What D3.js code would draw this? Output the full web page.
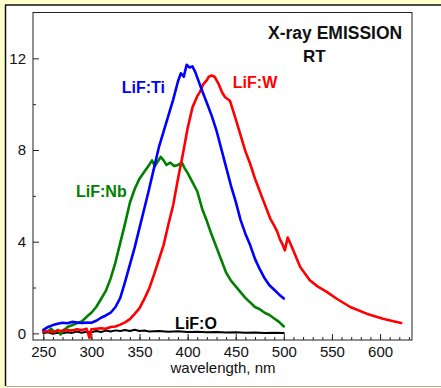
<!DOCTYPE html>
<html>
<head>
<meta charset="utf-8">
<script src="https://cdn.jsdelivr.net/npm/d3@7/dist/d3.min.js"></script>
<style>
  html, body { margin: 0; padding: 0; background: #FFFFCC; }
  svg { display: block; }
  text { font-family: "Liberation Sans", Arial, sans-serif; }
</style>
</head>
<body>
<svg id="chart" width="441" height="388"></svg>
<script>
// Emission spectra: wavelength (nm) and intensity (arb. units)
const tiWavelength = [250,255,260,265,270,275,280,285,290,295,300,305,310,315,320,325,330,335,340,345,350,355,360,365,370,375,380,385,390,393,396,399,402,405,408,411,415,420,425,430,435,440,445,450,455,460,465,470,475,480,485,490,495,500];
const tiIntensity  = [0.15,0.28,0.36,0.42,0.46,0.44,0.50,0.47,0.45,0.47,0.46,0.55,0.68,0.78,0.90,1.15,1.55,2.25,3.00,3.75,4.60,5.45,6.30,7.20,8.10,8.80,9.50,10.20,11.00,11.35,11.20,11.72,11.60,11.65,11.40,11.05,10.60,10.05,9.50,8.85,8.05,7.25,6.45,5.75,4.95,4.35,3.85,3.25,2.80,2.40,2.10,1.90,1.70,1.52];

const wWavelength = [250,255,260,265,270,275,280,285,290,295,298,300,305,310,315,320,325,330,335,340,345,350,355,360,365,370,375,380,385,390,395,400,405,410,413,416,420,422,425,428,432,436,439,444,447,450,455,460,465,470,475,480,486,490,493,496,499,501,504,507,510,517,527,535,545,555,569,586,603,615,622];
const wIntensity  = [0.07,0.10,0.05,0.12,0.10,0.15,0.12,0.18,0.15,0.20,-0.20,0.18,0.20,0.22,0.20,0.28,0.30,0.38,0.48,0.62,0.85,1.10,1.50,1.95,2.55,3.20,3.85,4.75,5.60,6.75,7.80,8.95,9.85,10.35,10.55,10.85,11.05,11.20,11.25,11.20,10.90,10.50,10.30,10.15,9.75,9.35,8.65,7.95,7.40,6.75,6.20,5.65,5.00,4.70,4.45,4.10,3.85,3.62,4.18,3.90,3.60,2.90,2.32,2.05,1.80,1.51,1.15,0.86,0.64,0.52,0.45];

const nbWavelength = [255,258,262,265,268,270,273,276,280,285,290,295,300,305,310,315,320,325,330,335,340,345,350,355,360,363,366,369,372,375,378,382,386,390,394,397,400,405,410,415,420,425,430,435,440,445,450,455,460,465,470,475,480,485,490,495,500];
const nbIntensity  = [0.08,0.20,0.05,0.15,-0.05,0.12,0.20,0.30,0.35,0.45,0.52,0.72,0.90,1.15,1.50,1.85,2.40,3.10,3.95,4.80,5.70,6.30,6.75,7.05,7.35,7.55,7.30,7.50,7.70,7.55,7.35,7.45,7.30,7.35,7.45,7.20,7.00,6.60,6.20,5.45,4.90,4.30,3.75,3.20,2.65,2.30,2.05,1.80,1.55,1.35,1.15,1.05,0.90,0.80,0.65,0.50,0.30];

const oWavelength = [250,255,260,265,270,275,280,285,290,295,300,305,310,315,320,325,330,335,340,345,350,355,360,370,380,390,400,410,420,430,440,450,460,470,480,490,500];
const oIntensity  = [0.02,0.05,-0.02,0.03,0.00,0.05,0.02,0.08,0.03,0.07,0.05,0.10,0.06,0.12,0.08,0.13,0.10,0.15,0.10,0.16,0.10,0.12,0.08,0.10,0.07,0.09,0.06,0.07,0.05,0.06,0.04,0.05,0.03,0.04,0.02,0.03,0.02];

const seriesNames  = ["LiF:O", "LiF:Nb", "LiF:W", "LiF:Ti"];
const seriesColors = ["#000000", "#008000", "#FF0000", "#0000FF"];

// Curve labels, anchored in data coordinates (wavelength, intensity)
const labelNames = ["LiF:Ti", "LiF:W", "LiF:Nb", "LiF:O"];
const labelX     = [331.5, 447.0, 284.0, 387.0];
const labelY     = [10.48, 10.70, 5.95, 0.21];

const xTickValues = [250, 300, 350, 400, 450, 500, 550, 600];
const yTickValues = [0, 4, 8, 12];

const svg = d3.select("#chart");

// page panel
svg.append("rect").attr("x", 6).attr("y", 5).attr("width", 435).attr("height", 381).attr("fill", "#fff");
svg.append("line").attr("x1", 5).attr("x2", 441).attr("y1", 5).attr("y2", 5).attr("stroke", "#111").attr("stroke-width", 1.5);
svg.append("line").attr("x1", 5.5).attr("x2", 5.5).attr("y1", 5).attr("y2", 386).attr("stroke", "#111").attr("stroke-width", 1.5);
svg.append("line").attr("x1", 6).attr("x2", 441).attr("y1", 386.5).attr("y2", 386.5).attr("stroke", "#b0b0b0").attr("stroke-width", 1);

const plotLeft = 33, plotRight = 412, plotTop = 12.5, plotBottom = 340;
const x = d3.scaleLinear().domain([239.3, 633.2]).range([plotLeft, plotRight]);
const y = d3.scaleLinear().domain([-0.29, 14]).range([plotBottom, plotTop]);

const fontStack = "'Liberation Sans', Arial, sans-serif";

// minor ticks
svg.append("g").attr("transform", `translate(0,${plotBottom})`)
  .call(d3.axisBottom(x).tickValues(d3.range(250, 631, 10)).tickSizeInner(-3).tickSizeOuter(0).tickFormat(""))
  .call(g => g.select(".domain").remove())
  .call(g => g.selectAll("line").attr("stroke", "#222"));
svg.append("g").attr("transform", `translate(${plotLeft},0)`)
  .call(d3.axisLeft(y).tickValues([2, 6, 10]).tickSizeInner(-3).tickSizeOuter(0).tickFormat(""))
  .call(g => g.select(".domain").remove())
  .call(g => g.selectAll("line").attr("stroke", "#222"));

// major ticks + labels
svg.append("g").attr("transform", `translate(0,${plotBottom})`)
  .call(d3.axisBottom(x).tickValues(xTickValues).tickSizeInner(-6).tickSizeOuter(0).tickPadding(6).tickFormat(d3.format("d")))
  .call(g => g.select(".domain").remove())
  .call(g => g.selectAll("line").attr("stroke", "#222"))
  .call(g => g.selectAll("text").attr("font-size", 15).attr("fill", "#111").style("font-family", fontStack));
svg.append("g").attr("transform", `translate(${plotLeft},0)`)
  .call(d3.axisLeft(y).tickValues(yTickValues).tickSizeInner(-6).tickSizeOuter(0).tickPadding(7).tickFormat(d3.format("d")))
  .call(g => g.select(".domain").remove())
  .call(g => g.selectAll("line").attr("stroke", "#222"))
  .call(g => g.selectAll("text").attr("font-size", 15).attr("fill", "#111").style("font-family", fontStack));

// plot frame
svg.append("rect").attr("x", plotLeft).attr("y", plotTop).attr("width", plotRight - plotLeft).attr("height", plotBottom - plotTop)
  .attr("fill", "none").attr("stroke", "#222").attr("stroke-width", 1);

// spectra
const seriesData = [
  d3.zip(oWavelength, oIntensity),
  d3.zip(nbWavelength, nbIntensity),
  d3.zip(wWavelength, wIntensity),
  d3.zip(tiWavelength, tiIntensity)
];
const line = d3.line().x(d => x(d[0])).y(d => y(d[1]));
seriesData.forEach((pts, i) => {
  svg.append("path")
    .attr("d", line(pts))
    .attr("fill", "none")
    .attr("stroke", seriesColors[i])
    .attr("stroke-width", i === 0 ? 2 : 2.6)
    .attr("stroke-linejoin", "round")
    .attr("stroke-linecap", "round");
});

// curve labels
labelNames.forEach((name, i) => {
  const c = seriesColors[seriesNames.indexOf(name)];
  svg.append("text")
    .attr("x", x(labelX[i])).attr("y", y(labelY[i]))
    .attr("font-size", 16).attr("font-weight", "bold").attr("fill", c)
    .text(name);
});

// title
svg.append("text").attr("x", 268).attr("y", 39).attr("font-size", 17.5).attr("font-weight", "bold").attr("fill", "#111").text("X-ray EMISSION");
svg.append("text").attr("x", 303).attr("y", 62).attr("font-size", 17).attr("font-weight", "bold").attr("fill", "#111").text("RT");

// axis title
svg.append("text").attr("x", (plotLeft + plotRight) / 2 + 0.5).attr("y", 373).attr("text-anchor", "middle")
  .attr("font-size", 15).attr("fill", "#111").text("wavelength, nm");
</script>
</body>
</html>
